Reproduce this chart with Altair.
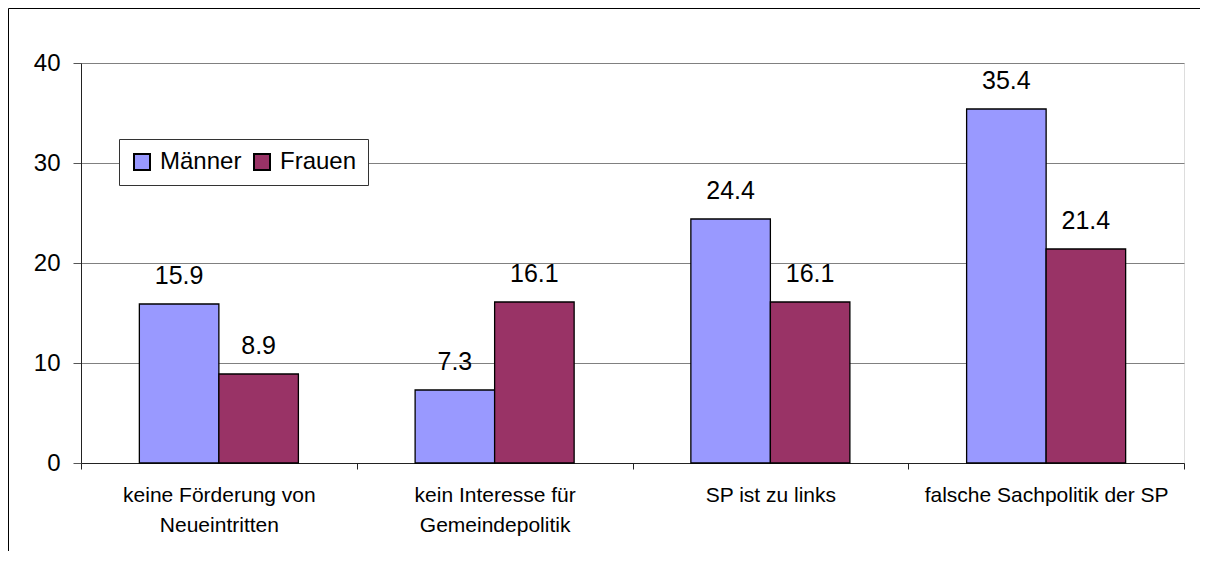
import altair as alt
import pandas as pd

categories = [
    "keine Förderung von|Neueintritten",
    "kein Interesse für|Gemeindepolitik",
    "SP ist zu links",
    "falsche Sachpolitik der SP",
]
series = ["Männer", "Frauen"]
maenner = [15.9, 7.3, 24.4, 35.4]
frauen = [8.9, 16.1, 16.1, 21.4]
colors = ["#9999FF", "#993366"]
y_ticks = [0, 10, 20, 30, 40]

rows = []
for i, c in enumerate(categories):
    rows.append({"cat": c, "ser": series[0], "val": maenner[i]})
    rows.append({"cat": c, "ser": series[1], "val": frauen[i]})
df = pd.DataFrame(rows)

FONT = "Liberation Sans"
W, H = 1103, 400

x = alt.X(
    "cat:N",
    sort=categories,
    scale=alt.Scale(paddingInner=0, paddingOuter=0),
    axis=alt.Axis(
        title=None, labelAngle=0, labelExpr="split(datum.label, '|')",
        labelFontSize=21, labelLineHeight=30, labelPadding=15, labelFont=FONT,
        labelColor="black", tickBand="extent", tickSize=6, tickColor="#222",
        domainColor="#222", grid=False, labelBaseline="top", labelLimit=0,
    ),
)
xo = alt.XOffset("ser:N", sort=series, scale=alt.Scale(paddingInner=0, paddingOuter=0.734))
y = alt.Y(
    "val:Q",
    scale=alt.Scale(domain=[0, 40]),
    axis=alt.Axis(
        values=y_ticks, title=None, labelFontSize=24, labelFont=FONT, labelColor="black",
        labelPadding=13, tickSize=8, tickColor="#555", domainColor="#222",
        grid=True, gridColor="#808080", gridWidth=1,
    ),
)

one = pd.DataFrame({"a": [0]})
frame_top = alt.Chart(one).mark_rule(color="black", strokeWidth=1, clip=False).encode(
    x=alt.value(-72.5), x2=alt.value(1140), y=alt.value(-54.5)
)
frame_left = alt.Chart(one).mark_rule(color="black", strokeWidth=1, clip=False).encode(
    x=alt.value(-72.5), y=alt.value(-54.5), y2=alt.value(600)
)

bars = alt.Chart(df).mark_bar(stroke="black", strokeWidth=1.3).encode(
    x=x, xOffset=xo, y=y,
    color=alt.Color(
        "ser:N", sort=series,
        scale=alt.Scale(domain=series, range=colors),
        legend=alt.Legend(
            title=None, orient="none", legendX=38, legendY=76, direction="horizontal",
            fillColor="white", strokeColor="#333", padding=11, symbolType="square",
            symbolSize=256, symbolStrokeColor="black", symbolStrokeWidth=2,
            labelFontSize=24, labelFont=FONT, labelColor="black", labelOffset=6,
            columnPadding=8, symbolOpacity=1,
        ),
    ),
)

labels = alt.Chart(df).mark_text(
    baseline="alphabetic", dy=-20, fontSize=25, font=FONT, color="black"
).encode(x=x, xOffset=xo, y=y, text=alt.Text("val:Q", format=".1f"))

chart = (
    alt.layer(frame_top, frame_left, bars, labels)
    .properties(
        width=W, height=H,
        autosize=alt.AutoSizeParams(type="none"),
        padding={"left": 73, "top": 55, "right": 16, "bottom": 88},
    )
    .configure_view(stroke="#808080", strokeWidth=1)
    .configure(background="white")
)

chart.save("out.html", embed_options={"renderer": "svg", "actions": False})
